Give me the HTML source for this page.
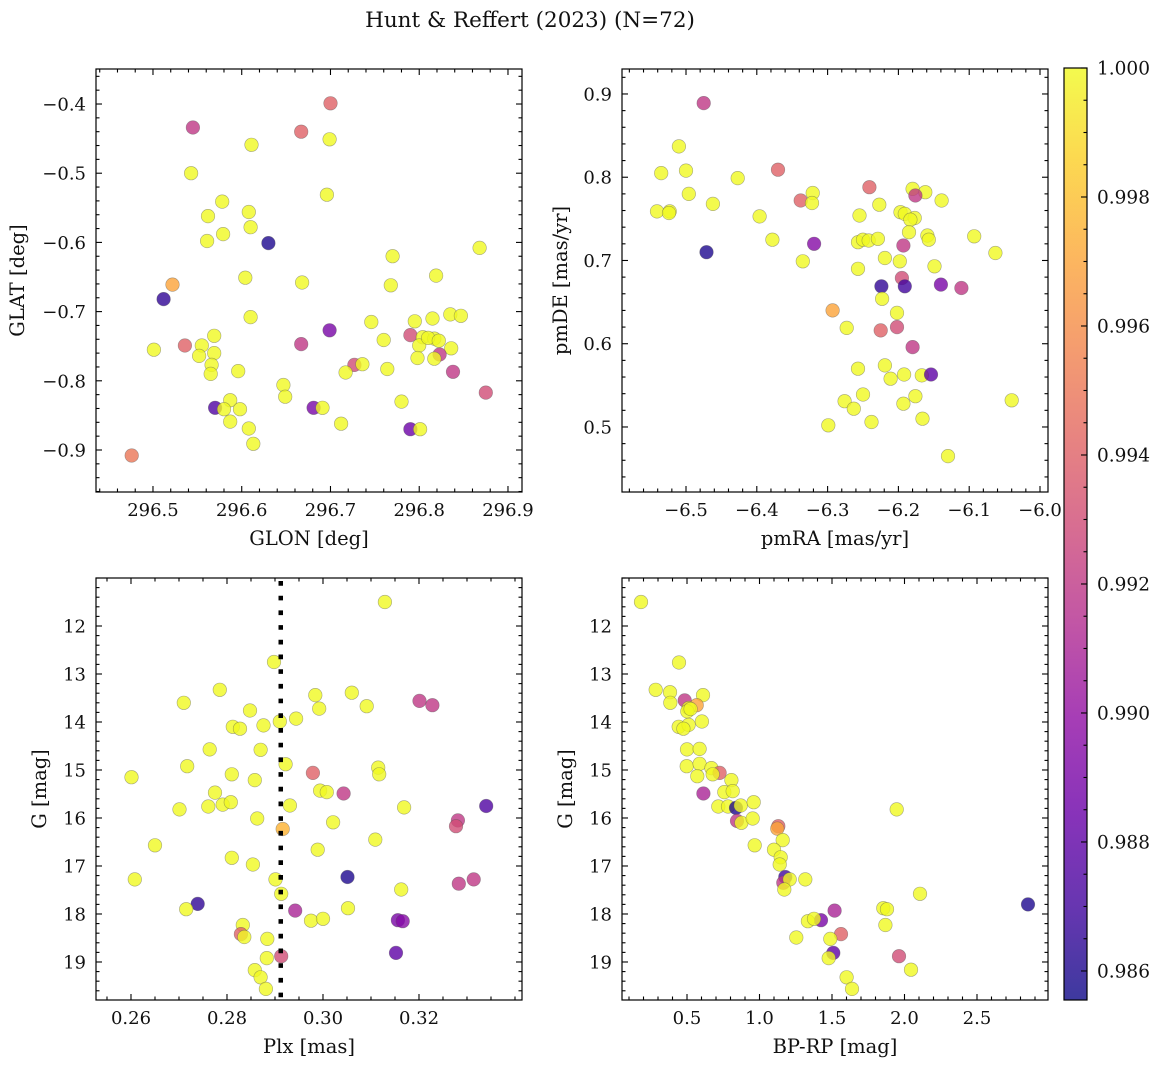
<!DOCTYPE html>
<html><head><meta charset="utf-8">
<style>
html,body{margin:0;padding:0;background:#fff;}
svg{display:block;font-family:"DejaVu Serif","Liberation Serif",serif;}
</style></head>
<body>
<svg id="fig" width="1161" height="1068" viewBox="0 0 1161 1068" xmlns="http://www.w3.org/2000/svg">
<defs>
<linearGradient id="cbgrad" x1="0" y1="1" x2="0" y2="0">
<stop offset="0" stop-color="#0d0887"/><stop offset="0.1" stop-color="#41049d"/><stop offset="0.2" stop-color="#6a00a8"/><stop offset="0.3" stop-color="#8f0da4"/><stop offset="0.4" stop-color="#b12a90"/><stop offset="0.5" stop-color="#cc4778"/><stop offset="0.6" stop-color="#e16462"/><stop offset="0.7" stop-color="#f2844b"/><stop offset="0.8" stop-color="#fca636"/><stop offset="0.9" stop-color="#fcce25"/><stop offset="1" stop-color="#f0f921"/>
</linearGradient>
</defs>
<text x="530" y="27" text-anchor="middle" font-size="21.5" fill="#111">Hunt &amp; Reffert (2023) (N=72)</text>
</svg>
<script>
// ---- Panel 1: GLON / GLAT ----
const glon=[296.700,296.545,296.667,296.699,296.611,296.543,296.696,296.578,296.608,296.562,296.610,296.579,296.561,296.630,296.868,296.770,296.819,296.604,296.668,296.522,296.768,296.512,296.835,296.847,296.610,296.815,296.795,296.746,296.699,296.790,296.569,296.804,296.817,296.667,296.536,296.555,296.800,296.836,296.501,296.569,296.552,296.823,296.798,296.817,296.566,296.727,296.736,296.764,296.596,296.717,296.565,296.838,296.647,296.875,296.649,296.780,296.587,296.570,296.580,296.598,296.681,296.691,296.587,296.712,296.608,296.790,296.801,296.613,296.476,296.810,296.822,296.760];
const glat=[-0.399,-0.434,-0.440,-0.451,-0.459,-0.500,-0.531,-0.541,-0.556,-0.562,-0.578,-0.588,-0.598,-0.601,-0.608,-0.620,-0.648,-0.651,-0.658,-0.661,-0.662,-0.682,-0.704,-0.706,-0.708,-0.710,-0.714,-0.715,-0.727,-0.734,-0.735,-0.737,-0.739,-0.747,-0.749,-0.749,-0.749,-0.753,-0.755,-0.760,-0.764,-0.762,-0.767,-0.768,-0.777,-0.777,-0.776,-0.783,-0.786,-0.788,-0.790,-0.787,-0.806,-0.817,-0.823,-0.830,-0.828,-0.839,-0.841,-0.841,-0.839,-0.839,-0.859,-0.862,-0.869,-0.870,-0.870,-0.891,-0.908,-0.738,-0.742,-0.741];
const prob1=[0.994,0.992,0.994,1,1,1,1,1,1,1,1,1,1,0.986,1,1,1,1,1,0.997,1,0.9865,1,1,1,1,1,1,0.989,0.993,1,1,1,0.992,0.994,1,1,1,1,1,1,0.992,1,1,1,0.993,1,1,1,1,1,0.992,1,0.993,1,1,1,0.9875,1,1,0.989,1,1,1,1,0.9885,1,1,0.995,1,1,1];
// ---- Panel 2: pmRA / pmDE ----
const pmra=[-6.475,-6.510,-6.535,-6.500,-6.427,-6.370,-6.241,-6.180,-6.162,-6.176,-6.496,-6.321,-6.338,-6.322,-6.139,-6.462,-6.227,-6.541,-6.523,-6.524,-6.255,-6.396,-6.197,-6.191,-6.177,-6.183,-6.185,-6.159,-6.157,-6.093,-6.378,-6.319,-6.257,-6.250,-6.242,-6.229,-6.193,-6.471,-6.063,-6.219,-6.198,-6.335,-6.149,-6.257,-6.195,-6.224,-6.191,-6.140,-6.111,-6.223,-6.293,-6.202,-6.273,-6.225,-6.202,-6.180,-6.257,-6.219,-6.211,-6.192,-6.167,-6.154,-6.250,-6.276,-6.263,-6.193,-6.176,-6.040,-6.238,-6.166,-6.299,-6.130];
const pmde=[0.889,0.837,0.805,0.808,0.799,0.809,0.788,0.786,0.782,0.778,0.780,0.781,0.772,0.769,0.772,0.768,0.767,0.759,0.759,0.757,0.754,0.753,0.758,0.756,0.751,0.749,0.734,0.730,0.725,0.729,0.725,0.720,0.722,0.725,0.724,0.726,0.718,0.710,0.709,0.703,0.699,0.699,0.693,0.690,0.679,0.669,0.669,0.671,0.667,0.654,0.640,0.637,0.619,0.616,0.620,0.596,0.570,0.574,0.558,0.563,0.562,0.563,0.539,0.531,0.522,0.528,0.537,0.532,0.506,0.510,0.502,0.465];
const prob2=[0.992,1,1,1,1,0.994,0.994,1,1,0.992,1,1,0.994,1,1,1,1,1,1,1,1,1,1,1,1,1,1,1,1,1,1,0.9895,1,1,1,1,0.992,0.986,1,1,1,1,1,1,0.993,0.9865,0.987,0.989,0.992,1,0.997,1,1,0.994,0.993,0.992,1,1,1,1,1,0.988,1,1,1,1,1,1,1,1,1,1];
// ---- Panel 3: Plx / G ----
const plx=[0.3129,0.2898,0.2785,0.2710,0.2984,0.3060,0.3201,0.3228,0.2992,0.3091,0.2848,0.2944,0.2910,0.2876,0.2812,0.2827,0.2764,0.2870,0.2717,0.2922,0.3115,0.3117,0.2979,0.2601,0.2810,0.2858,0.2775,0.2994,0.3008,0.3043,0.2761,0.2791,0.2808,0.2701,0.2931,0.3169,0.3340,0.2863,0.3021,0.3281,0.3277,0.2916,0.2650,0.3109,0.2989,0.2810,0.2854,0.2608,0.2901,0.3051,0.3283,0.3314,0.3163,0.2913,0.2739,0.2715,0.2942,0.3052,0.2975,0.3000,0.3156,0.3166,0.2833,0.2829,0.2836,0.2884,0.3152,0.2883,0.2913,0.2858,0.2870,0.2881];
const gmag3=[11.50,12.75,13.33,13.60,13.44,13.39,13.56,13.65,13.72,13.67,13.76,13.93,13.99,14.07,14.10,14.14,14.57,14.58,14.92,14.88,14.95,15.09,15.06,15.15,15.09,15.21,15.47,15.43,15.46,15.49,15.76,15.72,15.67,15.82,15.74,15.78,15.75,16.01,16.09,16.05,16.17,16.23,16.57,16.45,16.66,16.83,16.97,17.28,17.28,17.23,17.37,17.28,17.49,17.58,17.79,17.90,17.93,17.88,18.14,18.10,18.13,18.15,18.23,18.42,18.48,18.52,18.81,18.92,18.88,19.17,19.32,19.56];
const prob3=[1,1,1,1,1,1,0.992,0.992,1,1,1,1,1,1,1,1,1,1,1,1,1,1,0.994,1,1,1,1,1,1,0.992,1,1,1,1,1,1,0.9875,1,1,0.992,0.993,0.9975,1,1,1,1,1,1,1,0.986,0.992,0.992,1,1,0.9865,1,0.991,1,1,1,0.989,0.9895,1,0.994,1,1,0.988,1,0.993,1,1,1];
const plxLine=0.2912;
// ---- Panel 4: BP-RP / G ----
const bprp=[0.183,0.445,0.284,0.383,0.385,0.484,0.610,0.567,0.511,0.502,0.525,0.603,0.443,0.511,0.475,0.500,0.587,0.498,0.587,0.668,0.725,0.571,0.677,0.806,0.613,0.757,0.815,0.716,0.783,0.838,0.870,0.960,1.946,0.845,0.875,0.953,1.130,1.123,1.160,0.967,1.100,1.146,1.139,1.178,1.164,1.208,1.316,1.171,2.107,2.852,1.518,1.854,1.879,1.424,1.334,1.376,1.868,1.562,1.254,1.488,1.509,1.477,1.962,2.045,1.601,1.638];
const gmag4=[11.50,12.76,13.33,13.38,13.60,13.55,13.44,13.65,13.71,13.78,13.73,13.99,14.10,14.06,14.14,14.57,14.56,14.92,14.87,14.96,15.06,15.13,15.09,15.21,15.49,15.46,15.44,15.76,15.76,15.79,15.74,15.67,15.82,16.06,16.10,16.01,16.17,16.22,16.46,16.57,16.66,16.82,16.97,17.23,17.35,17.28,17.28,17.49,17.58,17.80,17.93,17.88,17.90,18.13,18.15,18.10,18.23,18.42,18.49,18.52,18.81,18.92,18.88,19.16,19.32,19.56];
const prob4=[1,1,1,1,1,0.992,1,0.997,1,1,1,1,1,1,1,1,1,1,1,1,0.994,1,1,1,0.991,1,1,1,1,0.986,1,1,1,0.992,1,1,0.994,0.997,1,1,1,1,1,0.987,0.992,1,1,1,1,0.986,0.991,1,1,0.989,1,1,1,0.994,1,1,0.988,1,0.993,1,1,1];
// ---- Tick label arrays ----
const p1xTicks=[296.5,296.6,296.7,296.8,296.9];
const p1yTicks=[-0.9,-0.8,-0.7,-0.6,-0.5,-0.4];
const p2xTicks=[-6.5,-6.4,-6.3,-6.2,-6.1,-6.0];
const p2yTicks=[0.5,0.6,0.7,0.8,0.9];
const p3xTicks=[0.26,0.28,0.30,0.32];
const gTicks=[12,13,14,15,16,17,18,19];
const p4xTicks=[0.5,1.0,1.5,2.0,2.5];
const cbTicks=[0.986,0.988,0.990,0.992,0.994,0.996,0.998,1.000];
const vmin=0.98555, vmax=1.0;

const NS='http://www.w3.org/2000/svg';
const svg=document.getElementById('fig');
const plasma=[[13,8,135],[65,4,157],[106,0,168],[143,13,164],[177,42,144],[204,71,120],[225,100,98],[242,132,75],[252,166,54],[252,206,37],[240,249,33]];
function cmap(v){let t=(v-vmin)/(vmax-vmin);t=Math.max(0,Math.min(1,t));const s=t*10,i=Math.min(9,Math.floor(s)),f=s-i;const a=plasma[i],b=plasma[i+1];return 'rgb('+[0,1,2].map(k=>Math.round(a[k]+(b[k]-a[k])*f)).join(',')+')';}
function el(tag,attrs,parent){const e=document.createElementNS(NS,tag);for(const k in attrs)e.setAttribute(k,attrs[k]);(parent||svg).appendChild(e);return e;}
function fmt(v,d){const s=Math.abs(v).toFixed(d);return (v<0?'\u2212':'')+s;}
const TFS=18, LFS=19.5;

function panel(o){
  const g=el('g',{});
  
  
  const sx=v=>o.x0+(v-o.xd[0])/(o.xd[1]-o.xd[0])*(o.x1-o.x0);
  const sy=v=>o.yinv? o.y0+(v-o.yd[0])/(o.yd[1]-o.yd[0])*(o.y1-o.y0) : o.y1-(v-o.yd[0])/(o.yd[1]-o.yd[0])*(o.y1-o.y0);
  const pts=el('g',{},g);
  
  
  for(let i=0;i<o.xs.length;i++){
    const c=el('circle',{cx:sx(o.xs[i]).toFixed(1),cy:sy(o.ys[i]).toFixed(1),r:6.8,fill:cmap(o.cs[i]),'fill-opacity':0.8,stroke:'#555','stroke-opacity':0.5,'stroke-width':0.6},pts);
    
    
  }
  if(o.vline!==undefined){
    const l=el('line',{x1:sx(o.vline),x2:sx(o.vline),y1:o.y0+3,y2:o.y1,stroke:'#000','stroke-width':4.5,'stroke-dasharray':'4.7 10'},g);
    
    
  }
  const frame=el('rect',{x:o.x0,y:o.y0,width:o.x1-o.x0,height:o.y1-o.y0,fill:'none',stroke:'#000','stroke-width':1.2},g);
  
  
  const tk=el('g',{stroke:'#000','stroke-width':1.1},g);
  
  
  const eps=1e-9;
  for(let v=Math.ceil(o.xd[0]/o.xmin-eps)*o.xmin; v<=o.xd[1]+eps; v+=o.xmin){
    const x=sx(v);const major=o.xt.some(t=>Math.abs(t-v)<o.xmin/3);const L=major?6:3.5;
    el('line',{x1:x,x2:x,y1:o.y1,y2:o.y1-L},tk);el('line',{x1:x,x2:x,y1:o.y0,y2:o.y0+L},tk);
  }
  for(let v=Math.ceil(o.yd[0]/o.ymin-eps)*o.ymin; v<=o.yd[1]+eps; v+=o.ymin){
    const y=sy(v);const major=o.yt.some(t=>Math.abs(t-v)<o.ymin/3);const L=major?6:3.5;
    el('line',{x1:o.x0,x2:o.x0+L,y1:y,y2:y},tk);el('line',{x1:o.x1,x2:o.x1-L,y1:y,y2:y},tk);
  }
  o.xt.forEach(v=>{const t=el('text',{x:sx(v),y:o.y1+24,'text-anchor':'middle','font-size':TFS,fill:'#111'},g);t.textContent=fmt(v,o.xdec);
    
    });
  o.yt.forEach(v=>{const t=el('text',{x:o.x0-10,y:sy(v)+6.5,'text-anchor':'end','font-size':TFS,fill:'#111'},g);t.textContent=fmt(v,o.ydec);
    
    });
  const xl=el('text',{x:(o.x0+o.x1)/2,y:o.y1+53,'text-anchor':'middle','font-size':LFS,fill:'#111'},g);xl.textContent=o.xlabel;
  
  
  const yl=el('text',{x:0,y:0,'text-anchor':'middle','font-size':LFS,fill:'#111',transform:'translate('+o.ylx+','+((o.y0+o.y1)/2)+') rotate(-90)'},g);yl.textContent=o.ylabel;
  
  
}

panel({name:'panel-sky-position',x0:96,x1:522,y0:69,y1:492,xd:[296.4358,296.9158],yd:[-0.9607,-0.3494],xt:p1xTicks,yt:p1yTicks,xmin:0.02,ymin:0.02,xdec:1,ydec:1,xs:glon,ys:glat,cs:prob1,xlabel:'GLON [deg]',ylabel:'GLAT [deg]',ylx:24});
panel({name:'panel-proper-motion',x0:622,x1:1048,y0:69,y1:492,xd:[-6.5904,-5.9887],yd:[0.4219,0.930],xt:p2xTicks,yt:p2yTicks,xmin:0.02,ymin:0.02,xdec:1,ydec:1,xs:pmra,ys:pmde,cs:prob2,xlabel:'pmRA [mas/yr]',ylabel:'pmDE [mas/yr]',ylx:567});
panel({name:'panel-parallax-magnitude',x0:96,x1:522,y0:578,y1:1000,xd:[0.25271,0.34146],yd:[11.0,19.792],yinv:true,xt:p3xTicks,yt:gTicks,xmin:0.005,ymin:0.2,xdec:2,ydec:0,xs:plx,ys:gmag3,cs:prob3,vline:plxLine,xlabel:'Plx [mas]',ylabel:'G [mag]',ylx:46});
panel({name:'panel-color-magnitude',x0:622,x1:1048,y0:578,y1:1000,xd:[0.0517,2.9897],yd:[11.0,19.792],yinv:true,xt:p4xTicks,yt:gTicks,xmin:0.1,ymin:0.2,xdec:1,ydec:0,xs:bprp,ys:gmag4,cs:prob4,xlabel:'BP-RP [mag]',ylabel:'G [mag]',ylx:572});

// colorbar
const cb=el('g',{});


const cbx0=1064,cbx1=1087,cby0=68,cby1=1000;
const cbs=v=>cby1-(v-vmin)/(vmax-vmin)*(cby1-cby0);
el('rect',{x:cbx0,y:cby0,width:cbx1-cbx0,height:cby1-cby0,fill:'url(#cbgrad)','fill-opacity':0.8},cb);
el('rect',{x:cbx0,y:cby0,width:cbx1-cbx0,height:cby1-cby0,fill:'none',stroke:'#000','stroke-width':1.2},cb);
for(let v=0.9860;v<=1.0000001;v+=0.0005){
  const y=cbs(v);const major=cbTicks.some(t=>Math.abs(t-v)<0.0001);
  el('line',{x1:cbx1,x2:cbx1-(major?6:3.5),y1:y,y2:y,stroke:'#000','stroke-width':1.1},cb);
}
cbTicks.forEach(v=>{const t=el('text',{x:cbx1+10,y:cbs(v)+6.5,'font-size':18.5,fill:'#111'},cb);t.textContent=v.toFixed(3);
  
  });
</script>
</body></html>
